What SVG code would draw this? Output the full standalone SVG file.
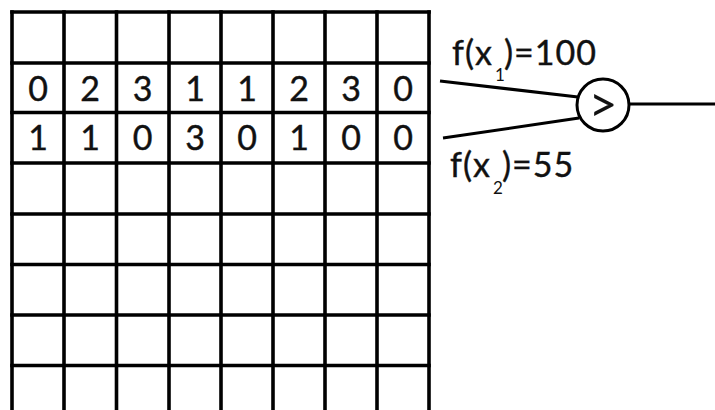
<svg xmlns="http://www.w3.org/2000/svg" width="715" height="410" viewBox="0 0 715 410">
<style>
.grid line{stroke:#000;stroke-width:3.6;stroke-linecap:square}
.d{font-family:Lato,"Open Sans",sans-serif;font-size:34px;fill:#111;stroke:#111;stroke-width:0.4;text-anchor:middle}
.lab{font-family:Lato,"Open Sans",sans-serif;font-size:34px;fill:#111;stroke:#111;stroke-width:0.4;letter-spacing:1px}
.sub{font-family:Lato,"Open Sans",sans-serif;font-size:17px;fill:#111}
.conn{stroke:#000;stroke-width:3;fill:none}
</style>
<rect width="715" height="410" fill="#fff"/>
<g id="grid" class="grid">
<line x1="12" y1="12" x2="12" y2="412"/>
<line x1="64" y1="12" x2="64" y2="412"/>
<line x1="116.5" y1="12" x2="116.5" y2="412"/>
<line x1="169" y1="12" x2="169" y2="412"/>
<line x1="221" y1="12" x2="221" y2="412"/>
<line x1="273" y1="12" x2="273" y2="412"/>
<line x1="325" y1="12" x2="325" y2="412"/>
<line x1="377" y1="12" x2="377" y2="412"/>
<line x1="429" y1="12" x2="429" y2="412"/>
<line x1="12" y1="12" x2="429" y2="12"/>
<line x1="12" y1="63" x2="429" y2="63"/>
<line x1="12" y1="112.5" x2="429" y2="112.5"/>
<line x1="12" y1="163" x2="429" y2="163"/>
<line x1="12" y1="214" x2="429" y2="214"/>
<line x1="12" y1="264.5" x2="429" y2="264.5"/>
<line x1="12" y1="315" x2="429" y2="315"/>
<line x1="12" y1="365.5" x2="429" y2="365.5"/>
</g>
<g id="row1">
<text class="d" x="38" y="101">0</text>
<text class="d" x="90" y="101">2</text>
<text class="d" x="142.5" y="101">3</text>
<text class="d" x="195" y="101">1</text>
<text class="d" x="247" y="101">1</text>
<text class="d" x="299" y="101">2</text>
<text class="d" x="351" y="101">3</text>
<text class="d" x="403" y="101">0</text>
</g>
<g id="row2">
<text class="d" x="38" y="150">1</text>
<text class="d" x="90" y="150">1</text>
<text class="d" x="142.5" y="150">0</text>
<text class="d" x="195" y="150">3</text>
<text class="d" x="247" y="150">0</text>
<text class="d" x="299" y="150">1</text>
<text class="d" x="351" y="150">0</text>
<text class="d" x="403" y="150">0</text>
</g>
<g id="connectors" class="conn">
<line x1="440" y1="81" x2="578" y2="97"/>
<line x1="443" y1="138" x2="579" y2="118"/>
<line x1="629" y1="104" x2="715" y2="104"/>
</g>
<g id="comparator">
<circle cx="603" cy="105" r="26" fill="none" stroke="#000" stroke-width="3"/>
<text x="603" y="122" text-anchor="middle" font-family="Lato,'Open Sans',sans-serif" font-size="50" fill="#111">&gt;</text>
</g>
<g id="label1">
<text class="lab" x="452" y="65">f(x</text>
<text class="sub" x="495" y="81">1</text>
<text class="lab" x="504" y="65">)=100</text>
</g>
<g id="label2">
<text class="lab" x="450" y="177">f(x</text>
<text class="sub" x="493" y="194">2</text>
<text class="lab" x="502" y="177">)=55</text>
</g>
</svg>
